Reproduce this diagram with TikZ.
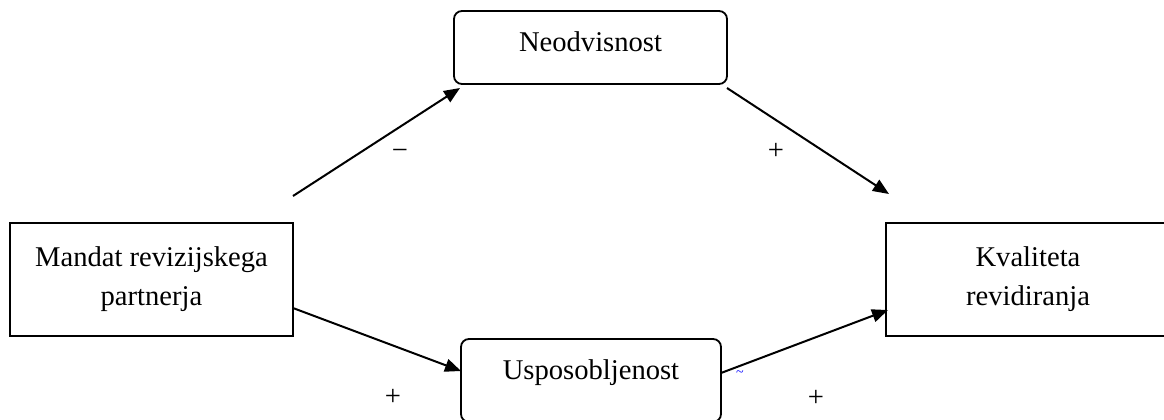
\documentclass[tikz,border=0pt]{standalone}
\usepackage{fontspec}
\setmainfont{Liberation Serif}
\usetikzlibrary{arrows.meta}

\begin{document}
\begin{tikzpicture}[x=0.5pt, y=-0.5pt,
  font=\fontsize{14.3}{19.5}\selectfont,
  box/.style={draw, line width=0.9pt, inner sep=0pt},
  rbox/.style={box, rounded corners=4pt, text height=9.8pt},
  arr/.style={-{Triangle[length=8pt,width=6.5pt]}, line width=1pt},
  sign/.style={inner sep=0pt}]
  \useasboundingbox (0,0) rectangle (1164,419);

  \node[box, align=center, minimum width=141.5pt, minimum height=56.5pt] (mandat) at (151.5,279.5) {Mandat revizijskega\\partnerja};
  \node[box, align=center, minimum width=142pt, minimum height=56.5pt] (kval) at (1028,279.5) {Kvaliteta\\revidiranja};
  \node[rbox, text depth=5.9pt, minimum width=136.5pt, minimum height=36.5pt] (neodv) at (590.5,47.5) {Neodvisnost};
  \node[rbox, text depth=10.9pt, minimum width=130pt, minimum height=41.5pt] (uspos) at (591,380.5) {Usposobljenost};

  \coordinate (a) at (293,196);
  \coordinate (b) at (460,88);
  \coordinate (c) at (727,88);
  \coordinate (d) at (889,194);
  \coordinate (e) at (293,308);
  \coordinate (f) at (461,371);
  \coordinate (g) at (721,373);
  \coordinate (h) at (888,310);

  \path[arr]
  (a) edge (b)
  (c) edge (d)
  (e) edge (f)
  (g) edge (h);

  \node[sign] (minus) at (400,154) {−};
  \node[sign] (plusa) at (776,151) {+};
  \node[sign] (plusb) at (393,397) {+};
  \node[sign] (plusc) at (816,398) {+};
  \node[sign, text=blue, font=\fontsize{7}{8}\selectfont] (blip) at (740,374) {\textasciitilde};
\end{tikzpicture}
\end{document}
